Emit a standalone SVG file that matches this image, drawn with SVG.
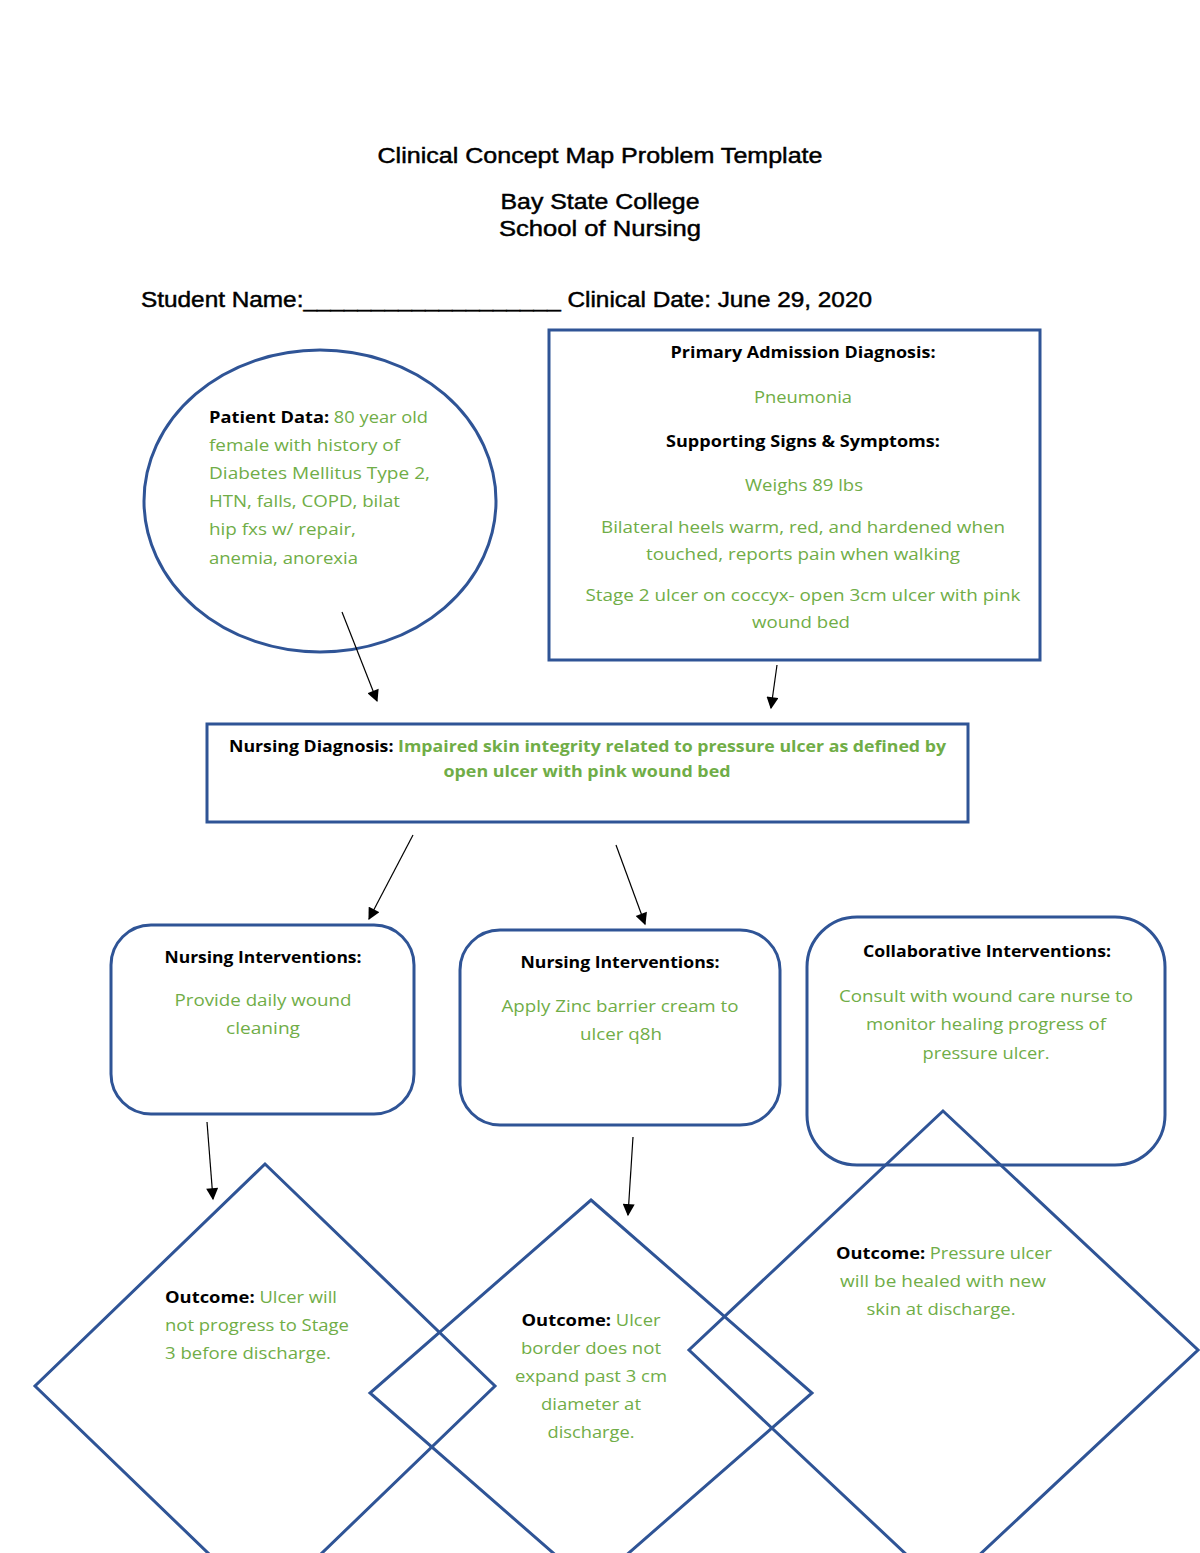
<svg xmlns="http://www.w3.org/2000/svg" width="1200" height="1553" viewBox="0 0 1200 1553">
<style>
.shape{fill:none;stroke:#2F5496;stroke-width:3}
.conn{stroke:#000;stroke-width:1.2;fill:none}
.hdr{font-family:"Liberation Sans",Arial,sans-serif;font-size:21.5px;fill:#000;stroke:#000;stroke-width:0.45}
.t{font-family:"Open Sans","Noto Sans",sans-serif;font-size:16.5px;fill:#70AD47}
.b{font-weight:bold;fill:#000}
.gb{font-weight:bold;fill:#70AD47}
.c{text-anchor:middle}
</style>
<defs>
<marker id="ah" viewBox="0 0 10 10" refX="9" refY="5" markerWidth="13" markerHeight="12" markerUnits="userSpaceOnUse" orient="auto">
<path d="M0,0 L10,5 L0,10 z" fill="#000"/>
</marker>
</defs>
<rect width="1200" height="1553" fill="#fff"/>
<g id="header">
<text class="hdr c" x="600" y="163" textLength="445" lengthAdjust="spacingAndGlyphs">Clinical Concept Map Problem Template</text>
<text class="hdr c" x="600" y="209" textLength="199" lengthAdjust="spacingAndGlyphs">Bay State College</text>
<text class="hdr c" x="600" y="236" textLength="202" lengthAdjust="spacingAndGlyphs">School of Nursing</text>
<text class="hdr" x="141" y="307" textLength="731" lengthAdjust="spacingAndGlyphs">Student Name:___________________ Clinical Date: June 29, 2020</text>
</g>
<g id="patient-data">
<ellipse class="shape" cx="320" cy="501" rx="176" ry="151"/>
<text class="t" x="209" y="423" textLength="219" lengthAdjust="spacingAndGlyphs"><tspan class="b">Patient Data: </tspan>80 year old</text>
<text class="t" x="209" y="451" textLength="191" lengthAdjust="spacingAndGlyphs">female with history of</text>
<text class="t" x="209" y="479" textLength="221" lengthAdjust="spacingAndGlyphs">Diabetes Mellitus Type 2,</text>
<text class="t" x="209" y="507" textLength="191" lengthAdjust="spacingAndGlyphs">HTN, falls, COPD, bilat</text>
<text class="t" x="209" y="535" textLength="147" lengthAdjust="spacingAndGlyphs">hip fxs w/ repair,</text>
<text class="t" x="209" y="564" textLength="149" lengthAdjust="spacingAndGlyphs">anemia, anorexia</text>
</g>
<g id="primary-diagnosis">
<rect class="shape" x="549" y="330" width="491" height="330"/>
<text class="t b c" x="803" y="358" textLength="265" lengthAdjust="spacingAndGlyphs">Primary Admission Diagnosis:</text>
<text class="t c" x="803" y="403" textLength="98" lengthAdjust="spacingAndGlyphs">Pneumonia</text>
<text class="t b c" x="803" y="447" textLength="274" lengthAdjust="spacingAndGlyphs">Supporting Signs &amp; Symptoms:</text>
<text class="t c" x="804" y="491" textLength="118" lengthAdjust="spacingAndGlyphs">Weighs 89 lbs</text>
<text class="t c" x="803" y="533" textLength="404" lengthAdjust="spacingAndGlyphs">Bilateral heels warm, red, and hardened when</text>
<text class="t c" x="803" y="560" textLength="314" lengthAdjust="spacingAndGlyphs">touched, reports pain when walking</text>
<text class="t c" x="803" y="601" textLength="435" lengthAdjust="spacingAndGlyphs">Stage 2 ulcer on coccyx- open 3cm ulcer with pink</text>
<text class="t c" x="801" y="628" textLength="98" lengthAdjust="spacingAndGlyphs">wound bed</text>
</g>
<g id="nursing-diagnosis">
<rect class="shape" x="207" y="724" width="761" height="98"/>
<text class="t" x="229" y="752" textLength="717" lengthAdjust="spacingAndGlyphs"><tspan class="b">Nursing Diagnosis: </tspan><tspan class="gb">Impaired skin integrity related to pressure ulcer as defined by</tspan></text>
<text class="t gb c" x="587" y="777" textLength="287" lengthAdjust="spacingAndGlyphs">open ulcer with pink wound bed</text>
</g>
<g id="nursing-interventions-1">
<rect class="shape" x="111" y="925" width="303" height="189" rx="40" ry="40"/>
<text class="t b c" x="263" y="963" textLength="197" lengthAdjust="spacingAndGlyphs">Nursing Interventions:</text>
<text class="t c" x="263" y="1006" textLength="177" lengthAdjust="spacingAndGlyphs">Provide daily wound</text>
<text class="t c" x="263" y="1034" textLength="74" lengthAdjust="spacingAndGlyphs">cleaning</text>
</g>
<g id="nursing-interventions-2">
<rect class="shape" x="460" y="930" width="320" height="195" rx="40" ry="40"/>
<text class="t b c" x="620" y="968" textLength="199" lengthAdjust="spacingAndGlyphs">Nursing Interventions:</text>
<text class="t c" x="620" y="1012" textLength="237" lengthAdjust="spacingAndGlyphs">Apply Zinc barrier cream to</text>
<text class="t c" x="621" y="1040" textLength="82" lengthAdjust="spacingAndGlyphs">ulcer q8h</text>
</g>
<g id="collaborative-interventions">
<rect class="shape" x="807" y="917" width="358" height="248" rx="50" ry="50"/>
<text class="t b c" x="987" y="957" textLength="248" lengthAdjust="spacingAndGlyphs">Collaborative Interventions:</text>
<text class="t c" x="986" y="1002" textLength="294" lengthAdjust="spacingAndGlyphs">Consult with wound care nurse to</text>
<text class="t c" x="986" y="1030" textLength="240" lengthAdjust="spacingAndGlyphs">monitor healing progress of</text>
<text class="t c" x="986" y="1059" textLength="127" lengthAdjust="spacingAndGlyphs">pressure ulcer.</text>
</g>
<g id="outcome-1">
<polygon class="shape" points="265,1164 495,1386 265,1608 35,1386"/>
<text class="t" x="165" y="1303" textLength="172" lengthAdjust="spacingAndGlyphs"><tspan class="b">Outcome: </tspan>Ulcer will</text>
<text class="t" x="165" y="1331" textLength="184" lengthAdjust="spacingAndGlyphs">not progress to Stage</text>
<text class="t" x="165" y="1359" textLength="166" lengthAdjust="spacingAndGlyphs">3 before discharge.</text>
</g>
<g id="outcome-2">
<polygon class="shape" points="591,1200 812,1393 591,1586 370,1393"/>
<text class="t c" x="591" y="1326" textLength="139" lengthAdjust="spacingAndGlyphs"><tspan class="b">Outcome: </tspan>Ulcer</text>
<text class="t c" x="591" y="1354" textLength="140" lengthAdjust="spacingAndGlyphs">border does not</text>
<text class="t c" x="591" y="1382" textLength="152" lengthAdjust="spacingAndGlyphs">expand past 3 cm</text>
<text class="t c" x="591" y="1410" textLength="100" lengthAdjust="spacingAndGlyphs">diameter at</text>
<text class="t c" x="591" y="1438" textLength="87" lengthAdjust="spacingAndGlyphs">discharge.</text>
</g>
<g id="outcome-3">
<polygon class="shape" points="943,1111 1198,1350 943,1589 689,1350"/>
<text class="t c" x="944" y="1259" textLength="216" lengthAdjust="spacingAndGlyphs"><tspan class="b">Outcome: </tspan>Pressure ulcer</text>
<text class="t c" x="943" y="1287" textLength="206" lengthAdjust="spacingAndGlyphs">will be healed with new</text>
<text class="t c" x="941" y="1315" textLength="149" lengthAdjust="spacingAndGlyphs">skin at discharge.</text>
</g>
<g id="connectors">
<line class="conn" x1="342" y1="612" x2="377" y2="701" marker-end="url(#ah)"/>
<line class="conn" x1="777" y1="665" x2="771" y2="708" marker-end="url(#ah)"/>
<line class="conn" x1="413" y1="835" x2="369" y2="919" marker-end="url(#ah)"/>
<line class="conn" x1="616" y1="845" x2="645" y2="924" marker-end="url(#ah)"/>
<line class="conn" x1="207" y1="1122" x2="213" y2="1199" marker-end="url(#ah)"/>
<line class="conn" x1="633" y1="1137" x2="628" y2="1215" marker-end="url(#ah)"/>
</g>
</svg>
